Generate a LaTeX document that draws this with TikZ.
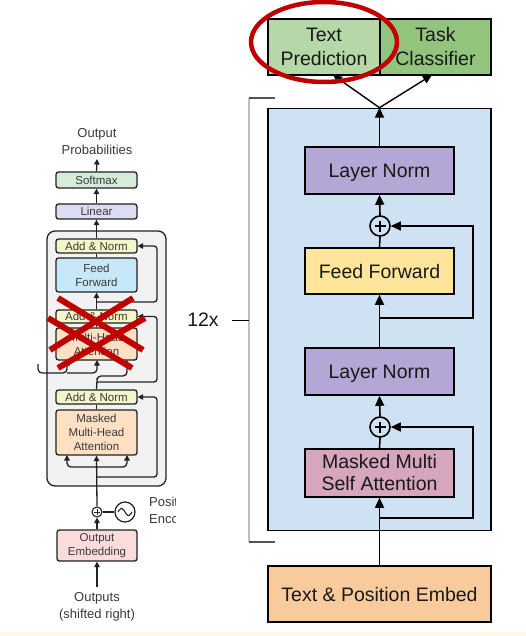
\documentclass[tikz,border=0pt]{standalone}
\usepackage{fontspec}
\setmainfont{Liberation Sans}
\usetikzlibrary{arrows.meta}
\definecolor{tpred}{HTML}{B6D7A8}
\definecolor{tcls}{HTML}{93C47D}
\definecolor{blk}{HTML}{CFE2F3}
\definecolor{lnorm}{HTML}{B4A7D6}
\definecolor{ffw}{HTML}{FFE599}
\definecolor{msa}{HTML}{D5A6BD}
\definecolor{emb}{HTML}{F9CB9C}
\definecolor{redmark}{HTML}{C00000}
\definecolor{lgline}{HTML}{222222}
\definecolor{ltext}{HTML}{3A3A3A}
\definecolor{smx}{HTML}{D4ECD9}
\definecolor{lin}{HTML}{DCDCF2}
\definecolor{addn}{HTML}{F3F6C8}
\definecolor{lff}{HTML}{C7E8F6}
\definecolor{lmha}{HTML}{FDE0C3}
\definecolor{lemb}{HTML}{FADCDC}
\definecolor{gbox}{HTML}{F2F2F2}
\definecolor{brk}{HTML}{BFBFBF}
\definecolor{brkd}{HTML}{555555}
\definecolor{stripe}{HTML}{FCF8E4}
\begin{document}
\begin{tikzpicture}[x=1pt,y=-1pt,
  rbox/.style={draw=black, line width=1.6, inner sep=0, align=center, text=black!90, font=\fontsize{19.5}{24}\selectfont},
  rone/.style={rbox, text depth=0pt},
  rarr/.style={line width=1.6, -{Triangle[length=10pt,width=9pt]}},
  rline/.style={line width=1.6},
  rplus/.style={circle, draw, line width=1.6, minimum size=20, inner sep=0,
    path picture={\draw[line width=1.5] (path picture bounding box.center) ++(-5.5pt,0) -- ++(11pt,0);
                  \draw[line width=1.5] (path picture bounding box.center) ++(0,-5.5pt) -- ++(0,11pt);}},
  lplus/.style={circle, draw=lgline, line width=1.1, minimum size=10, inner sep=0,
    path picture={\draw[lgline, line width=1] (path picture bounding box.center) ++(-3.2pt,0) -- ++(6.4pt,0);
                  \draw[lgline, line width=1] (path picture bounding box.center) ++(0,-3.2pt) -- ++(0,6.4pt);}},
  lbox/.style={draw=lgline, line width=1.3, rounded corners=2.5, minimum width=81, inner sep=0, align=center, text=ltext, font=\fontsize{11.5}{14}\selectfont},
  llab/.style={align=center, text=ltext, font=\fontsize{13}{17}\selectfont, inner sep=0},
  larr/.style={draw=lgline, line width=1.3, -{Triangle[length=5.5pt,width=5.5pt]}},
  lline/.style={draw=lgline, line width=1.3},
  xmark/.style={draw=redmark, line width=6},
]
\useasboundingbox (0,0) rectangle (526,636);
\fill[stripe] (0,632) rectangle (526,636);

% ---------------- right: GPT block ----------------
\node[rbox, fill=tpred, minimum width=112, minimum height=56] (tp) at (324,47) {\raisebox{-1.5pt}{Text}\\\raisebox{-1.5pt}{Prediction}};
\node[rbox, fill=tcls, minimum width=111, minimum height=56] (tc) at (435.5,47) {\raisebox{-1.5pt}{Task}\\\raisebox{-1.5pt}{Classifier}};
\node[draw=black, line width=1.6, fill=blk, minimum width=223, minimum height=422, inner sep=0] (block) at (379.5,319.5) {};
\node[rone, fill=lnorm, minimum width=149, minimum height=47] (ln1) at (379.5,170.5) {Layer Norm};
\node[rplus] (p1) at (380,226) {};
\node[rone, fill=ffw, minimum width=149, minimum height=46] (ff) at (379.5,271) {Feed Forward};
\node[rone, fill=lnorm, minimum width=149, minimum height=47] (ln2) at (379.5,371.5) {Layer Norm};
\node[rplus] (p2) at (380,427) {};
\node[rbox, fill=msa, minimum width=149, minimum height=48, font=\fontsize{19.5}{22}\selectfont] (msa) at (379.5,473) {\raisebox{-1.5pt}{Masked Multi}\\\raisebox{-1.5pt}{Self Attention}};
\node[rone, fill=emb, minimum width=223, minimum height=56] (emb) at (379.5,594) {Text \& Position Embed};

\coordinate (tpin) at (333,75);
\coordinate (tcin) at (432,75);
\coordinate (r1) at (380,318);
\coordinate (r1r) at (473,318);
\coordinate (r2) at (380,518);
\coordinate (r2r) at (473,518);

\draw[line width=1.4, -{Triangle[length=9pt,width=8pt]}] (block.north) -- (tpin);
\draw[line width=1.4, -{Triangle[length=9pt,width=8pt]}] (block.north) -- (tcin);
\draw[rarr] (ln1.north) -- (block.north);
\draw[rarr] (p1.north) -- (ln1.south);
\draw[rline] (ff.north) -- (p1.south);
\draw[rarr] (ln2.north) -- (ff.south);
\draw[rarr] (r1) -- (r1r) |- (p1.east);
\draw[rarr] (p2.north) -- (ln2.south);
\draw[rline] (msa.north) -- (p2.south);
\draw[rarr] (emb.north) -- (msa.south);
\draw[rarr] (r2) -- (r2r) |- (p2.east);

% bracket and 12x
\coordinate (bt) at (249,98);
\coordinate (btr) at (275,98);
\coordinate (bb) at (249,542);
\coordinate (bbr) at (275,542);
\coordinate (bm) at (249,320);
\coordinate (bml) at (232,320);
\draw[brk, line width=2] (bt) -- (bb);
\draw[brkd, line width=1.5] (bt) -- (btr);
\draw[brkd, line width=1.5] (bb) -- (bbr);
\draw[black, line width=1] (bml) -- (bm);
\node[font=\fontsize{19.5}{24}\selectfont, text=black!90, inner sep=0, text depth=0pt] (n12) at (203,320) {12x};

% red ellipse
\draw[redmark, line width=4.5] (324,42) ellipse [x radius=73, y radius=40];

% ---------------- left: transformer decoder ----------------
\node[llab] (outlbl) at (97,141.5) {Output\\Probabilities};
\node[lbox, fill=smx, minimum height=16] (softmax) at (96.5,180) {Softmax};
\node[lbox, fill=lin, minimum height=15] (linear) at (96.5,211.5) {Linear};
\node[draw=lgline, line width=1.3, fill=gbox, rounded corners=8, minimum width=119, minimum height=255, inner sep=0] (gray) at (106.5,358.5) {};
\node[lbox, fill=addn, minimum height=14] (an1) at (96.5,246) {Add \& Norm};
\node[lbox, fill=lff, minimum height=34] (lff) at (96.5,275) {Feed\\Forward};
\node[lbox, fill=addn, minimum height=13] (an2) at (96.5,316.5) {Add \& Norm};
\node[lbox, fill=lmha, minimum height=32] (mha) at (96.5,344) {Multi-Head\\Attention};
\node[lbox, fill=addn, minimum height=14] (an3) at (96.5,397) {Add \& Norm};
\node[lbox, fill=lmha, minimum height=45] (mmha) at (96.5,432.5) {Masked\\Multi-Head\\Attention};
\node[lplus] (lp) at (97,512) {};
\node[circle, draw=lgline, line width=1.2, minimum size=20, inner sep=0] (sine) at (125,512) {};
\draw[lgline, line width=1.1] plot[domain=-7:7, samples=40, smooth] ({125+\x},{512+3.5*sin(\x*180/7)});
\begin{scope}
\clip (0,0) rectangle (175,636);
\node[llab, align=left, anchor=west] (pe) at (149,511.5) {Positional\\Encoding};
\end{scope}
\node[lbox, fill=lemb, minimum width=80, minimum height=31] (oemb) at (97,545.5) {Output\\Embedding};
\node[llab] (outs) at (97,606.5) {Outputs\\(shifted right)};

\coordinate (probin) at (97,159);
\coordinate (outsrc) at (97,587);
\coordinate (l1) at (97,302);
\coordinate (l1r) at (157,302);
\coordinate (l2) at (97,382);
\coordinate (l2r) at (157,382);
\coordinate (l3) at (97,477);
\coordinate (l3r) at (157,477);
\coordinate (encin) at (38,364);
\coordinate (kvj) at (67,373);
\coordinate (vj) at (97,373);
\coordinate (mhak) at (67,360);
\coordinate (mhav) at (97,360);
\coordinate (mhaq) at (127,360);
\coordinate (mj) at (97,467);
\coordinate (mmk) at (67,455);
\coordinate (mmq) at (127,455);

\draw[larr] (softmax.north) -- (probin);
\draw[larr] (linear.north) -- (softmax.south);
\draw[larr] (an1.north) -- (linear.south);
\draw[lline] (lff.north) -- (an1.south);
\draw[larr] (an2.north) -- (lff.south);
\draw[larr, rounded corners=3] (l1) -- (l1r) |- (an1.east);
\draw[lline] (mha.north) -- (an2.south);
\draw[larr, rounded corners=3] (l2) -- (l2r) |- (an2.east);
\draw[larr, rounded corners=4] (an3.north) -- (l2) -- ++(0,-6) -| (mhaq);
\draw[larr, rounded corners=4] (encin) |- (kvj) -- (mhak);
\draw[larr, rounded corners=4] (kvj) -- (vj) -- (mhav);
\draw[lline] (mmha.north) -- (an3.south);
\draw[larr, rounded corners=3] (l3) -- (l3r) |- (an3.east);
\draw[larr] (lp.north) -- (mmha.south);
\draw[larr, rounded corners=4] (mj) -| (mmk);
\draw[larr, rounded corners=4] (mj) -| (mmq);
\draw[larr] (oemb.north) -- (lp.south);
\draw[lline] (lp.east) -- (sine.west);
\draw[larr] (outsrc) -- (oemb.south);

% red crosses
\draw[xmark] (58,298) -- (143,350);
\draw[xmark] (133,298) -- (50,350);
\draw[xmark] (48,318) -- (132,368);
\draw[xmark] (145,318) -- (58,368);
\end{tikzpicture}
\end{document}
